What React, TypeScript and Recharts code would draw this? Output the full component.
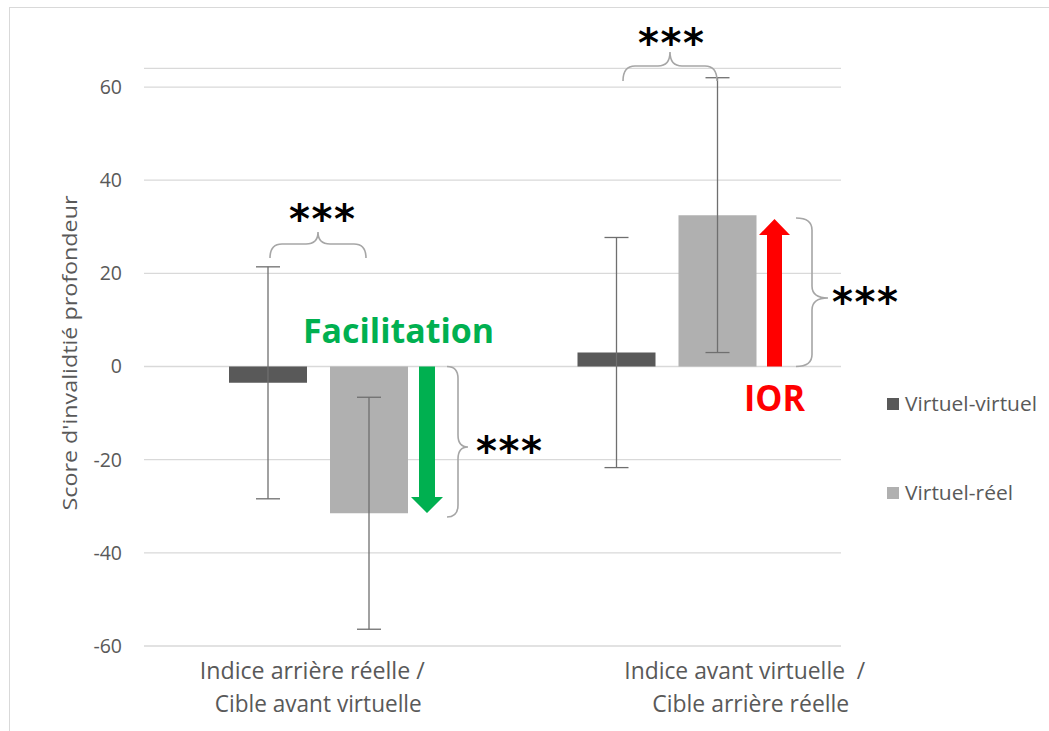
import React from "react";
import { BarChart, Bar, XAxis, YAxis, CartesianGrid, ErrorBar } from "recharts";

// categories (two text lines each)
const categoryLine1 = ["Indice arrière réelle /", "Indice avant virtuelle  /"];
const categoryLine2 = ["Cible avant virtuelle", "Cible arrière réelle"];

// series
const seriesNames = ["Virtuel-virtuel", "Virtuel-réel"];
const seriesColors = ["#595959", "#B0B0B0"];
const virtuelVirtuel = [-3.5, 3];
const virtuelReel = [-31.5, 32.5];
const errVirtuelVirtuel = [24.9, 24.7];
const errVirtuelReel = [24.9, 29.5];

const yTicks = [-60, -40, -20, 0, 20, 40, 60];

const FONT = "'Open Sans', 'Noto Sans', sans-serif";
const W = 1049;
const H = 731;
const M = { top: 68.4, right: 208, bottom: 25, left: 84 };
const Y_MIN = -60;
const Y_MAX = 64;
const PLOT_BOTTOM = 646;

const yPx = (v: number) => M.top + ((Y_MAX - v) / (Y_MAX - Y_MIN)) * (PLOT_BOTTOM - M.top);

const data = categoryLine1.map((c, i) => ({
  name: c,
  vv: virtuelVirtuel[i],
  vr: virtuelReel[i],
  evv: errVirtuelVirtuel[i],
  evr: errVirtuelReel[i],
}));

// label offsets as drawn in the original (hand-placed text boxes)
const labelShift = [-6, 78];
const labelWidth1 = [225, 241];
const labelWidth2 = [207, 197];

function CategoryTick(props: any) {
  const { x, payload } = props;
  const i = payload.index;
  const cx = x + labelShift[i];
  return (
    <g>
      <text x={cx} y={679} textAnchor="middle" fill="#595959" fontFamily={FONT} fontSize={24}
        textLength={labelWidth1[i]} lengthAdjust="spacingAndGlyphs" style={{ whiteSpace: "pre" }}>
        {categoryLine1[i]}
      </text>
      <text x={cx + 6} y={712} textAnchor="middle" fill="#595959" fontFamily={FONT} fontSize={24}
        textLength={labelWidth2[i]} lengthAdjust="spacingAndGlyphs">
        {categoryLine2[i]}
      </text>
    </g>
  );
}

function hBrace(x1: number, x2: number, yEnd: number, yMid: number, yTip: number) {
  const xm = (x1 + x2) / 2;
  const r = 12;
  return `M${x1},${yEnd} Q${x1},${yMid} ${x1 + r},${yMid} L${xm - r},${yMid} Q${xm},${yMid} ${xm},${yTip} Q${xm},${yMid} ${xm + r},${yMid} L${x2 - r},${yMid} Q${x2},${yMid} ${x2},${yEnd}`;
}

function vBrace(y1: number, y2: number, xEnd: number, xMid: number, xTip: number, yTip: number) {
  const r = 12;
  return `M${xEnd},${y1} Q${xMid},${y1} ${xMid},${y1 + r} L${xMid},${yTip - r} Q${xMid},${yTip} ${xTip},${yTip} Q${xMid},${yTip} ${xMid},${yTip + r} L${xMid},${y2 - r} Q${xMid},${y2} ${xEnd},${y2}`;
}

function Stars({ x, y }: { x: number; y: number }) {
  return (
    <text x={x} y={y} textAnchor="middle" fontFamily="'DejaVu Sans', sans-serif" fontWeight="bold"
      fontSize={40} fill="#000" textLength={66} lengthAdjust="spacing">
      ***
    </text>
  );
}

function Annotations() {
  const braceStyle = { fill: "none", stroke: "#A6A6A6", strokeWidth: 1.6 };
  return (
    <svg width={W} height={H} style={{ position: "absolute", left: 0, top: 0, pointerEvents: "none" }}>
      {/* y axis title */}
      <text transform="translate(77,353) rotate(-90)" textAnchor="middle" fill="#595959" fontFamily={FONT}
        fontSize={20} textLength={315} lengthAdjust="spacingAndGlyphs">
        Score d'invalidtié profondeur
      </text>

      {/* braces */}
      <path d={hBrace(270, 366, 258, 244, 232)} {...braceStyle} />
      <path d={hBrace(623, 717, 81, 66, 52)} {...braceStyle} />
      <path d={vBrace(yPx(0), 517, 447, 458, 468, 447)} {...braceStyle} />
      <path d={vBrace(218, yPx(0), 796, 812, 828, 298)} {...braceStyle} />

      <Stars x={322} y={233} />
      <Stars x={671} y={57} />
      <Stars x={509} y={465} />
      <Stars x={865} y={316} />

      {/* facilitation arrow */}
      <path d={`M419,${yPx(0)} L435,${yPx(0)} L435,497 L443,497 L427,513 L411,497 L419,497 Z`} fill="#00B050" />
      <text x={303} y={343} fill="#00B050" fontFamily={FONT} fontWeight="bold" fontSize={34}
        textLength={191} lengthAdjust="spacingAndGlyphs">
        Facilitation
      </text>

      {/* IOR arrow */}
      <path d={`M767,${yPx(0)} L782,${yPx(0)} L782,235 L790,235 L774.5,219 L759,235 L767,235 Z`} fill="#FF0000" />
      <text x={744} y={411} fill="#FF0000" fontFamily={FONT} fontWeight="bold" fontSize={36}
        textLength={61} lengthAdjust="spacingAndGlyphs">
        IOR
      </text>

      {/* legend */}
      {seriesNames.map((n, i) => (
        <g key={n}>
          <rect x={887} y={398 + i * 89} width={12} height={12} fill={seriesColors[i]} />
          <text x={905} y={411 + i * 89} fill="#595959" fontFamily={FONT} fontSize={19.5}
            textLength={i === 0 ? 132 : 108} lengthAdjust="spacingAndGlyphs">
            {n}
          </text>
        </g>
      ))}
    </svg>
  );
}

export default function App() {
  return (
    <div style={{ position: "absolute", left: 0, top: 0, width: W, height: H, overflow: "hidden", background: "#fff" }}>
      <div style={{ position: "absolute", left: 9, top: 7, width: 1200, height: 900, border: "1px solid #D9D9D9" }} />
      <div style={{ position: "absolute", left: 0, top: 0 }}>
        <BarChart width={W} height={H} data={data} margin={M} barSize={78} barGap={23}>
          <CartesianGrid vertical={false} stroke="#D9D9D9" strokeWidth={1.3} />
          <XAxis dataKey="name" height={60} axisLine={false} tickLine={false} tick={<CategoryTick />} interval={0} />
          <YAxis width={60} domain={[Y_MIN, Y_MAX]} allowDataOverflow ticks={yTicks} axisLine={false} tickLine={false}
            tickMargin={16} tick={{ fill: "#595959", fontSize: 19.5, fontFamily: FONT }} />
          <Bar dataKey="vv" name={seriesNames[0]} fill={seriesColors[0]} isAnimationActive={false}>
            <ErrorBar dataKey="evv" width={12} stroke="#6F6F6F" strokeWidth={1.3} />
          </Bar>
          <Bar dataKey="vr" name={seriesNames[1]} fill={seriesColors[1]} isAnimationActive={false}>
            <ErrorBar dataKey="evr" width={12} stroke="#6F6F6F" strokeWidth={1.3} />
          </Bar>
        </BarChart>
      </div>
      <Annotations />
    </div>
  );
}
